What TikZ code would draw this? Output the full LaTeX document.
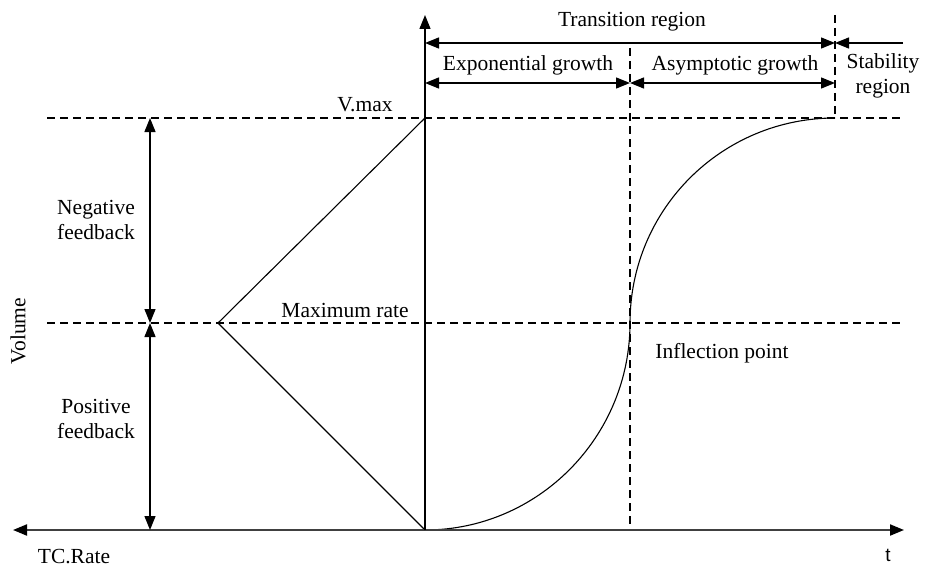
\documentclass[tikz,border=0pt]{standalone}
\usepackage{fontspec}
\setmainfont{Liberation Serif}
\newfontfamily\sansf{Liberation Sans}
\usetikzlibrary{arrows.meta}
\begin{document}
\begin{tikzpicture}[x=1pt,y=-1pt,
  lbl/.style={font=\fontsize{21.5}{25}\selectfont, inner sep=0pt, align=center},
  onetip/.style={line width=1.3pt,-{Triangle[length=14pt,width=11pt]}},
  twotip/.style={line width=1.3pt,{Triangle[length=14pt,width=11pt]}-{Triangle[length=14pt,width=11pt]}},
  axisline/.style={line width=2pt,draw=black!75,{Triangle[length=14pt,width=11pt,color=black]}-{Triangle[length=14pt,width=11pt,color=black]}},
  plainline/.style={line width=1.1pt},
  dashline/.style={dash pattern=on 8pt off 5pt, line width=1.1pt}]
\useasboundingbox (0,0) rectangle (925,567);
% key points
\coordinate (O) at (425,530);
\coordinate (Vtop) at (425,15);
\coordinate (Lend) at (13,530);
\coordinate (Rend) at (904,530);
\coordinate (VmL) at (47,118);
\coordinate (VmR) at (903,118);
\coordinate (MrL) at (47,323);
\coordinate (MrR) at (903,323);
\coordinate (Tri) at (218,323);
\coordinate (Top) at (425,118);
\coordinate (Inf) at (630,323);
\coordinate (Sat) at (835,118);
\coordinate (D1t) at (630,48);
\coordinate (D1b) at (630,530);
\coordinate (D2t) at (835,15);
\coordinate (T1) at (425,43);
\coordinate (T2) at (835,43);
\coordinate (T3) at (903,43);
\coordinate (E1) at (425,83);
\coordinate (E2) at (630,83);
\coordinate (E3) at (835,83);
\coordinate (F1) at (150,118);
\coordinate (F2) at (150,323);
\coordinate (F3) at (150,530);
% dashed guides
\draw[dashline] (VmL) -- (VmR);
\draw[dashline] (MrL) -- (MrR);
\draw[dashline] (D1t) -- (D1b);
\draw[dashline] (D2t) -- (Sat);
% triangle
\draw[plainline] (Top) -- (Tri) -- (O);
% curve
\draw[plainline] (O) .. controls (538,530) and (630,437) .. (Inf)
  .. controls (630,209) and (722,118) .. (Sat);
% axes
\draw[axisline] (Lend) -- (Rend);
\draw[onetip] (O) -- (Vtop);
% region arrows
\draw[twotip] (T1) -- (T2);
\draw[onetip] (T3) -- (T2);
\draw[twotip] (E1) -- (E2);
\draw[twotip] (E2) -- (E3);
\draw[twotip] (F1) -- (F2);
\draw[twotip] (F2) -- (F3);
% labels
\node[lbl] (ltrans) at (632,22) {Transition region};
\node[lbl] (lexp) at (528,65) {Exponential growth};
\node[lbl] (lasy) at (735,65) {Asymptotic growth};
\node[lbl] (lstab) at (883,76) {Stability\\region};
\node[lbl] (lvmax) at (365,105) {V.max};
\node[lbl] (lmr) at (345,310) {Maximum rate};
\node[lbl] (linf) at (722,353) {Inflection point};
\node[lbl] (lneg) at (96,220) {Negative\\feedback};
\node[lbl] (lpos) at (96,419) {Positive\\feedback};
\node[lbl, rotate=90] (lvol) at (18,331) {Volume};
\node[lbl] (ltc) at (74,557) {TC.Rate};
\node[lbl, font=\sansf\fontsize{19}{23}\selectfont] (lt) at (888,555) {t};
\end{tikzpicture}
\end{document}
